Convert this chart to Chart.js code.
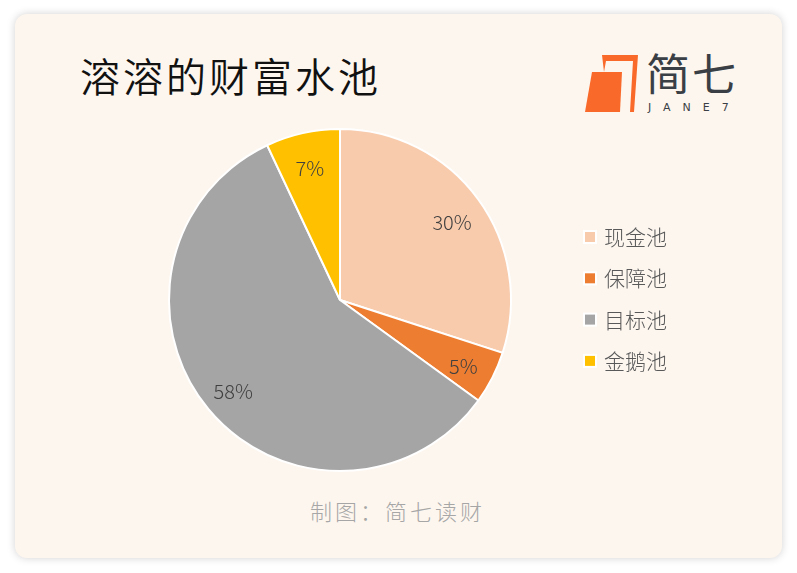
<!DOCTYPE html>
<html>
<head>
<meta charset="utf-8">
<script src="https://cdn.jsdelivr.net/npm/chart.js@4"></script>
<style>
  body { margin: 0; background: #ffffff; font-family: "Noto Sans CJK SC", sans-serif; }
  .card {
    position: absolute; left: 15px; top: 14px; width: 767px; height: 544px;
    background: #fdf6ef; border-radius: 12px;
    box-shadow: 0 0 8px rgba(0,0,0,0.18);
  }
  .title {
    position: absolute; left: 80px; top: 50px; font-size: 40px; color: #111;
    line-height: 50px; letter-spacing: 3px; font-weight: 350;
  }
  .foot {
    position: absolute; left: 310px; top: 495px;
    font-size: 22px; color: #a6a6a6; line-height: 30px; letter-spacing: 3px; font-weight: 300;
  }
  .logo { position: absolute; left: 584px; top: 52px; }
  .logo .cn {
    position: absolute; left: 62px; top: -8px; font-size: 44px; color: #3a3f45;
    line-height: 56px; white-space: nowrap; letter-spacing: 2px;
  }
  .logo .en {
    position: absolute; left: 64px; top: 49px; font-size: 11px; color: #3a3f45;
    font-family: "DejaVu Sans", sans-serif; letter-spacing: 12px; white-space: nowrap;
  }
  #wrap { position: absolute; left: 0; top: 0; width: 797px; height: 573px; }
</style>
</head>
<body>
<div class="card"></div>
<div class="title">溶溶的财富水池</div>
<div class="logo">
  <svg width="60" height="64" viewBox="0 0 60 64">
    <polygon points="18,3 54,3 50,60 46,60 49,9 22,9 20,20" fill="#f96a2a"/>
    <polygon points="8,20 38,20 36,60 1,60" fill="#f96a2a"/>
  </svg>
  <div class="cn">简七</div>
  <div class="en">JANE7</div>
</div>
<div class="foot">制图：简七读财</div>
<div id="wrap"><canvas id="pie"></canvas></div>
<script>
const categories = ['现金池', '保障池', '目标池', '金鹅池'];
const shares = [30, 5, 58, 7];
const colors = ['#f8cbad', '#ed7d31', '#a5a5a5', '#ffc000'];

const sliceLabels = {
  id: 'sliceLabels',
  afterDatasetsDraw(chart) {
    const ctx = chart.ctx;
    const meta = chart.getDatasetMeta(0);
    ctx.save();
    ctx.font = '300 20px "Noto Sans CJK SC", sans-serif';
    ctx.fillStyle = '#404040';
    ctx.textAlign = 'center';
    ctx.textBaseline = 'middle';
    meta.data.forEach((arc, i) => {
      const mid = (arc.startAngle + arc.endAngle) / 2;
      const r = arc.outerRadius * 0.81;
      ctx.fillText(shares[i] + '%', arc.x + Math.cos(mid) * r, arc.y + Math.sin(mid) * r + 3.5);
    });
    // legend
    ctx.font = '300 21px "Noto Sans CJK SC", sans-serif';
    ctx.textAlign = 'left';
    categories.forEach((c, i) => {
      const y = 237 + i * 41.3;
      ctx.fillStyle = '#ffffff';
      ctx.fillRect(583, y - 7, 14, 14);
      ctx.fillStyle = colors[i];
      ctx.fillRect(585, y - 5, 10, 10);
      ctx.fillStyle = '#595959';
      ctx.fillText(c, 604, y);
    });
    ctx.restore();
  }
};

new Chart(document.getElementById('pie'), {
  type: 'pie',
  data: {
    labels: categories,
    datasets: [{
      data: shares,
      backgroundColor: colors,
      borderColor: '#ffffff',
      borderWidth: 2
    }]
  },
  options: {
    responsive: true,
    maintainAspectRatio: false,
    animation: false,
    layout: { padding: { left: 168, right: 285, top: 128, bottom: 101 } },
    plugins: { legend: { display: false }, tooltip: { enabled: false } }
  },
  plugins: [sliceLabels]
});
</script>
</body>
</html>
